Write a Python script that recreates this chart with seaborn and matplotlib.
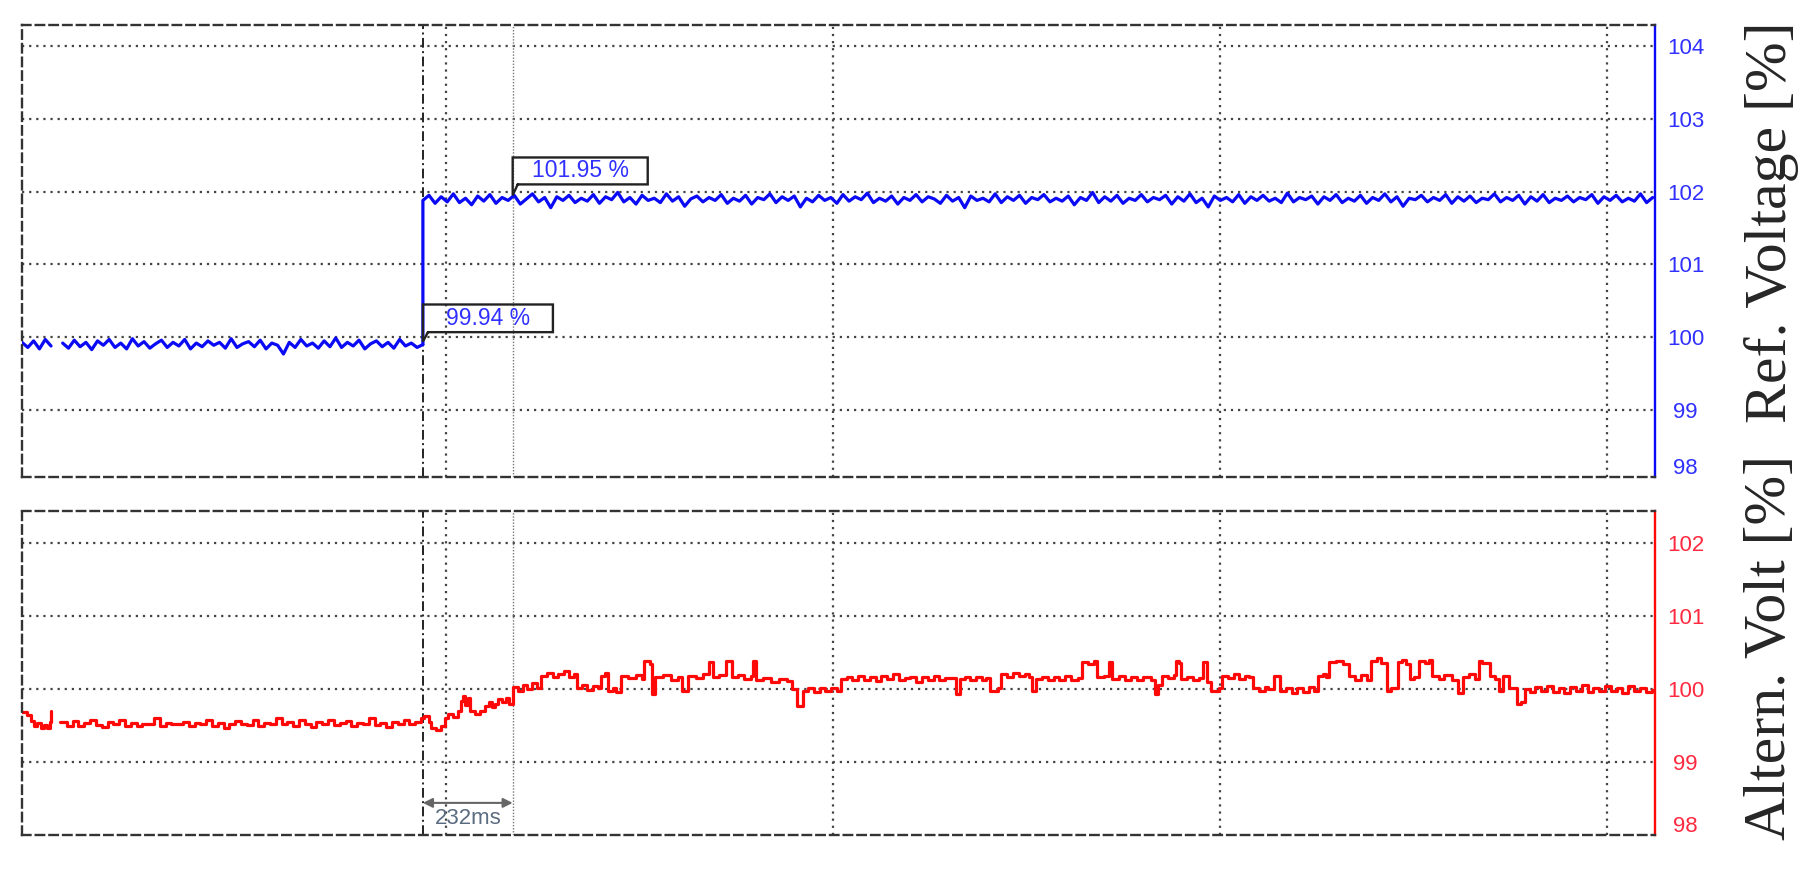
import numpy as np
import seaborn as sns
import matplotlib.pyplot as plt
from matplotlib.transforms import blended_transform_factory

# time axis in ms, 0 = step command (first cursor), second cursor after 232 ms
t_start, t_end = -1036, 3184
t_step, t_cursor = 0, 232
grid_t = [60, 1060, 2060, 3060]

# reference voltage [%] before the step (NaN = gap in the recording)
blue_pre = [99.93, 99.86, 99.95, 99.84, 99.97, 99.88, np.nan, 99.92, 99.85, 99.96,
            99.87, 99.93, 99.83, 99.95, 99.89, 99.97, 99.86, 99.92, 99.84, 99.98,
            99.88, 99.94, 99.85, 99.91, 99.96, 99.86, 99.93, 99.88, 99.97, 99.84,
            99.92, 99.87, 99.95, 99.89, 99.93, 99.85, 99.98, 99.86, 99.91, 99.94,
            99.87, 99.96, 99.84, 99.92, 99.89, 99.77, 99.93, 99.86, 99.97, 99.88,
            99.92, 99.85, 99.95, 99.87, 99.99, 99.86, 99.93, 99.88, 99.96, 99.84,
            99.91, 99.95, 99.87, 99.93, 99.85, 99.97, 99.88, 99.92, 99.86, 99.90]

# reference voltage [%] after the step
blue_post = [99.90,
             101.88, 101.95, 101.84, 101.93, 101.86, 101.97, 101.85, 101.91, 101.82, 101.94, 101.87, 101.96, 101.84, 101.92, 101.88,
             101.95, 101.83, 101.90, 101.97, 101.86, 101.92, 101.78, 101.93, 101.88, 101.95, 101.85, 101.91, 101.87, 101.96, 101.84,
             101.93, 101.89, 101.99, 101.86, 101.92, 101.83, 101.95, 101.88, 101.91, 101.85, 101.97, 101.87, 101.93, 101.80, 101.90,
             101.94, 101.86, 101.92, 101.88, 101.96, 101.84, 101.91, 101.87, 101.95, 101.83, 101.92, 101.89, 101.97, 101.85, 101.93,
             101.88, 101.94, 101.79, 101.91, 101.86, 101.95, 101.88, 101.92, 101.84, 101.96, 101.87, 101.93, 101.89, 101.98, 101.85,
             101.91, 101.87, 101.94, 101.83, 101.92, 101.88, 101.96, 101.86, 101.93, 101.90, 101.84, 101.95, 101.87, 101.92, 101.78,
             101.94, 101.88, 101.91, 101.86, 101.97, 101.85, 101.93, 101.88, 101.95, 101.84, 101.92, 101.89, 101.96, 101.86, 101.91,
             101.87, 101.94, 101.82, 101.92, 101.88, 101.99, 101.85, 101.93, 101.87, 101.95, 101.84, 101.91, 101.88, 101.96, 101.86,
             101.92, 101.89, 101.95, 101.83, 101.93, 101.87, 101.97, 101.85, 101.91, 101.79, 101.94, 101.88, 101.92, 101.86, 101.96,
             101.84, 101.93, 101.88, 101.95, 101.87, 101.91, 101.85, 101.98, 101.86, 101.92, 101.89, 101.94, 101.83, 101.93, 101.88,
             101.96, 101.85, 101.91, 101.87, 101.95, 101.84, 101.92, 101.88, 101.97, 101.86, 101.93, 101.80, 101.91, 101.89, 101.95,
             101.86, 101.92, 101.88, 101.96, 101.84, 101.93, 101.87, 101.94, 101.85, 101.91, 101.89, 101.97, 101.86, 101.92, 101.88,
             101.95, 101.83, 101.93, 101.87, 101.96, 101.85, 101.91, 101.88, 101.94, 101.86, 101.92, 101.89, 101.96, 101.84, 101.93,
             101.88, 101.95, 101.86, 101.91, 101.87, 101.97, 101.85, 101.92]

# alternator voltage [%], breakpoints of the stepped trace
red_t = [-1036, -1024, -1012, -1004, -996, -988, -980, -972, -964, -960, -955, -937,
         -920, -905, -890, -875, -860, -845, -830, -815, -800, -785, -770, -755, -740,
         -725, -710, -695, -680, -665, -650, -635, -620, -605, -590, -575, -560, -545,
         -530, -515, -500, -485, -470, -455, -440, -425, -410, -395, -380, -365, -350,
         -335, -320, -305, -290, -275, -260, -245, -230, -215, -200, -185, -170, -155,
         -140, -125, -110, -95, -80, -65, -50, -35, -20, -5,
         3, 15, 22, 35, 48, 56, 65, 78, 90, 98, 104, 110, 116, 122, 135, 148, 160, 170,
         178, 186, 194, 204, 214, 222, 232, 245, 258, 270, 282, 295, 306, 320, 335, 350,
         365, 378, 390, 398, 412, 425, 440, 452, 460, 470, 478, 490, 500, 512, 530, 550,
         566, 571, 586, 591, 600, 620, 640, 660, 670, 684, 705, 725, 739, 749, 765, 783,
         798, 815, 830, 848, 853, 862, 880, 900, 920, 940, 955, 966, 981, 995, 1010, 1025,
         1040, 1055, 1070, 1080, 1095, 1110, 1125, 1140, 1155, 1170, 1185, 1200, 1215,
         1230, 1245, 1260, 1275, 1290, 1305, 1320, 1335, 1350, 1377, 1387, 1400, 1415,
         1430, 1445, 1456, 1466, 1486, 1495, 1510, 1525, 1540, 1555, 1565, 1575, 1584,
         1600, 1615, 1630, 1645, 1660, 1675, 1693, 1703, 1720, 1735, 1743, 1760, 1772,
         1782, 1800, 1815, 1830, 1845, 1860, 1881, 1891, 1900, 1911, 1925, 1940, 1945,
         1955, 1960, 1975, 1990, 2006, 2016, 2026, 2036, 2056, 2065, 2080, 2095, 2110,
         2125, 2135, 2145, 2160, 2175, 2184, 2199, 2214, 2230, 2245, 2260, 2275, 2290,
         2303, 2313, 2325, 2333, 2342, 2360, 2377, 2392, 2410, 2425, 2441, 2451, 2465,
         2476, 2491, 2501, 2520, 2530, 2540, 2550, 2560, 2575, 2590, 2600, 2609, 2625,
         2640, 2659, 2674, 2688, 2703, 2718, 2728, 2738, 2758, 2770, 2782, 2792, 2807,
         2827, 2837, 2847, 2860, 2875, 2890, 2905, 2920, 2935, 2950, 2965, 2980, 2995,
         3010, 3025, 3040, 3055, 3070, 3085, 3100, 3115, 3130, 3145, 3160, 3175, 3182]
red_v = [99.68, 99.64, 99.56, 99.49, 99.53, 99.46, 99.51, 99.47, 99.55, 99.70, np.nan, 99.55,
         99.50, 99.56, 99.49, 99.53, 99.58, 99.51, 99.48, 99.55, 99.52, 99.57, 99.50, 99.53, 99.49,
         99.52, 99.52, 99.60, 99.50, 99.53, 99.52, 99.52, 99.55, 99.49, 99.53, 99.52, 99.58, 99.50,
         99.54, 99.47, 99.52, 99.56, 99.52, 99.51, 99.57, 99.49, 99.53, 99.52, 99.60, 99.52, 99.55,
         99.50, 99.57, 99.52, 99.48, 99.55, 99.52, 99.58, 99.51, 99.53, 99.56, 99.50, 99.54, 99.52,
         99.60, 99.51, 99.53, 99.48, 99.55, 99.52, 99.57, 99.52, 99.55, 99.60,
         99.63, 99.55, 99.47, 99.44, 99.50, 99.60, 99.66, 99.62, 99.70, 99.84, 99.91, 99.78, 99.88,
         99.70, 99.66, 99.70, 99.77, 99.82,
         99.75, 99.80, 99.86, 99.82, 99.88, 99.80, 100.03, 99.98, 100.06, 100.00, 100.08, 100.02,
         100.18, 100.22, 100.16, 100.20,
         100.25, 100.17, 100.20, 100.02, 100.06, 99.99, 100.04, 100.01, 100.18, 100.22, 99.98,
         100.02, 99.96, 100.18, 100.15, 100.19,
         100.14, 100.39, 100.35, 99.93, 100.16, 100.19, 100.13, 100.17, 99.98, 100.18, 100.15,
         100.20, 100.37, 100.16, 100.19, 100.39,
         100.16, 100.19, 100.14, 100.18, 100.39, 100.12, 100.15, 100.10, 100.14, 100.11, 100.00,
         99.77, 99.98, 100.02, 99.96, 100.01,
         99.97, 100.02, 99.98, 100.14, 100.17, 100.12, 100.18, 100.13, 100.16, 100.11, 100.18,
         100.14, 100.20,
         100.12, 100.15, 100.17, 100.10, 100.16, 100.13, 100.18, 100.12, 100.15, 99.93, 100.14,
         100.17, 100.12,
         100.16, 100.13, 100.15, 99.98, 100.02, 100.20, 100.17, 100.22, 100.18, 100.21, 100.17,
         99.98, 100.14,
         100.17, 100.12, 100.16, 100.13, 100.18, 100.12, 100.15, 100.37, 100.34, 100.38, 100.16,
         100.18, 100.37,
         100.14, 100.18, 100.12, 100.16, 100.13, 100.17, 100.12, 99.93, 100.05, 100.18, 100.15,
         100.19, 100.39,
         100.36, 100.14, 100.17, 100.12, 100.15, 100.37, 100.10, 99.98, 100.02, 100.18, 100.15,
         100.20, 100.14,
         100.18, 100.16, 100.02, 99.98, 100.03, 100.00, 100.18, 99.98, 100.02, 99.95, 100.01,
         99.96, 100.03,
         99.98, 100.18, 100.21, 100.17, 100.37, 100.39, 100.35, 100.18, 100.13, 100.19, 100.12,
         100.39, 100.42,
         100.36, 99.98, 100.02, 100.37, 100.40, 100.35, 100.14, 100.16, 100.39, 100.36, 100.40,
         100.18, 100.14,
         100.19, 100.13, 99.95, 100.16, 100.20, 100.14, 100.39, 100.36, 100.18, 100.14, 99.98,
         100.18, 100.02,
         99.79, 99.82, 100.00, 99.96, 100.03, 99.97, 100.04, 99.96, 100.02, 99.95, 100.03, 99.98,
         100.05,
         99.96, 100.02, 99.97, 100.04, 99.98, 100.01, 99.95, 100.04, 99.97, 100.02, 99.96, 99.99, 99.99]

ref_pre_label, ref_post_label = 99.94, 101.95

W, H = 1817, 873
blue, red = '#0a0af5', '#ff0808'
blue_txt, red_txt = '#3030ff', '#ff2a40'
grid_col = '#444444'

sns.set_style('white')
plt.rcParams['font.family'] = ['Liberation Sans', 'DejaVu Sans']


def trace(ax, t, v, color, **kw):
    t = np.asarray(t, float)
    v = np.asarray(v, float)
    ok = ~np.isnan(v)
    edges = np.flatnonzero(np.diff(np.r_[0, ok.astype(int), 0]))
    for a, b in zip(edges[::2], edges[1::2]):
        sns.lineplot(x=t[a:b], y=v[a:b], ax=ax, color=color, estimator=None,
                     sort=False, legend=False, errorbar=None, **kw)


def style_panel(ax, ylim, yticks, spine_col, txt_col):
    ax.set_xlim(t_start, t_end)
    ax.set_ylim(*ylim)
    ax.set_xticks(grid_t)
    ax.set_xticklabels([])
    ax.set_yticks(yticks)
    ax.yaxis.tick_right()
    ax.tick_params(axis='x', length=0)
    ax.tick_params(axis='y', length=0, pad=22, labelsize=16, labelcolor=txt_col)
    for lab in ax.get_yticklabels():
        lab.set_horizontalalignment('center')
    ax.grid(True, linestyle=(0, (1, 2.2)), color=grid_col, lw=1.6)
    for side in ['top', 'bottom', 'left']:
        ax.spines[side].set_color('#333333')
        ax.spines[side].set_linewidth(1.7)
        ax.spines[side].set_linestyle((0, (3.6, 2.2)))
    ax.spines['right'].set_color(spine_col)
    ax.spines['right'].set_linewidth(1.7)
    ax.axvline(t_step, color='#222222', lw=1.4, linestyle=(0, (5, 1.8, 1, 1.8)), zorder=1)
    ax.axvline(t_cursor, color='#777777', lw=1.0, linestyle=(0, (1, 1.2)), zorder=1)
    ax.set_xlabel('')
    ax.set_ylabel('')
    # lowest tick label sits just inside the frame
    tr = blended_transform_factory(ax.transAxes, ax.transData)
    ax.text(1 + 30 / (1655 - 22), ylim[0] + 0.11, '98', transform=tr, ha='center',
            va='center', fontsize=16, color=txt_col)


def callout(ax, x0, y0, x1, ybot, ytop, text):
    dx = 13
    ax.plot([x0 + dx, x1, x1, x0, x0, x0 + dx], [ybot, ybot, ytop, ytop, y0, ybot],
            color='#222222', lw=1.7, solid_joinstyle='miter', zorder=4)
    ax.text((x0 + x1) / 2, (ybot + ytop) / 2, text, ha='center', va='center',
            fontsize=16.5, color=blue_txt, zorder=5)


fig = plt.figure(figsize=(W / 100, H / 100), dpi=100)
ax1 = fig.add_axes([22 / W, 1 - 477 / H, (1655 - 22) / W, (477 - 25) / H])
ax2 = fig.add_axes([22 / W, 1 - 835 / H, (1655 - 22) / W, (835 - 511) / H])

style_panel(ax1, (98.08, 104.29), [99, 100, 101, 102, 103, 104], blue, blue_txt)
style_panel(ax2, (98.0, 102.44), [99, 100, 101, 102], red, red_txt)

trace(ax1, np.linspace(t_start, t_step, len(blue_pre)), blue_pre, blue, lw=2.3)
trace(ax1, np.r_[t_step, np.linspace(t_step, t_end - 6, len(blue_post) - 1)], blue_post, blue, lw=2.3)
trace(ax2, red_t, red_v, red, lw=2.3, drawstyle='steps-post')

callout(ax1, t_cursor, ref_post_label, 581, 102.10, 102.47, f'{ref_post_label:.2f} %')
callout(ax1, t_step, ref_pre_label, 336, 100.07, 100.45, f'{ref_pre_label:.2f} %')

ax2.annotate('', xy=(t_cursor, 98.44), xytext=(t_step, 98.44),
             arrowprops=dict(arrowstyle='<|-|>', color='#666666', lw=1.5,
                             mutation_scale=14, shrinkA=0, shrinkB=0))
ax2.text((t_step + t_cursor) / 2, 98.22, f'{t_cursor - t_step}ms', ha='center', va='center',
         fontsize=16, color='#5b6b80')

serif = ['Liberation Serif', 'DejaVu Serif']
fig.text(1771 / W, 1 - 222 / H, 'Ref. Voltage [%]', rotation=90, ha='center', va='center',
         fontsize=43, family=serif)
fig.text(1771 / W, 1 - 648 / H, 'Altern. Volt [%]', rotation=90, ha='center', va='center',
         fontsize=43, family=serif)

fig.savefig('out.png', dpi=100, facecolor='white')
